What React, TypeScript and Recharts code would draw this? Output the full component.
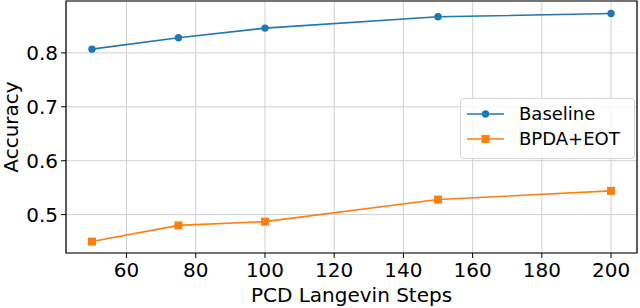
import {
  LineChart,
  Line,
  XAxis,
  YAxis,
  CartesianGrid,
  Legend,
  ReferenceArea
} from "recharts";

const steps = [50, 75, 100, 150, 200];
const baseline = [0.807, 0.828, 0.846, 0.867, 0.873];
const bpdaEot = [0.45, 0.48, 0.487, 0.528, 0.544];

const xTicks = [60, 80, 100, 120, 140, 160, 180, 200];
const yTicks = [0.5, 0.6, 0.7, 0.8];
const xDomain = [42.5, 207.5];
const yDomain = [0.4288, 0.8963];
const seriesOrder = ["baseline", "bpda"];

const BLUE = "#1f77b4";
const ORANGE = "#ff7f0e";
const FONT = "DejaVu Sans";

const data = steps.map((s, i) => ({
  step: s,
  baseline: baseline[i],
  bpda: bpdaEot[i]
}));

const SquareDot = (props: any) => {
  const { cx, cy, index } = props;
  if (cx == null || cy == null) return null;
  return <rect key={`sq-${index}`} x={cx - 4} y={cy - 4} width={8} height={8} fill={ORANGE} />;
};

const LegendBox = ({ payload }: any) => {
  // keep plotting order, not alphabetical
  const items = [...(payload || [])].sort(
    (a: any, b: any) => seriesOrder.indexOf(a.dataKey) - seriesOrder.indexOf(b.dataKey)
  );
  return (
    <div
      style={{
        width: 167,
        height: 56,
        border: "1px solid #d6d6d6",
        borderRadius: 4,
        background: "rgba(255,255,255,0.8)",
        padding: "3px 0 0 6px",
        boxSizing: "content-box",
        fontFamily: FONT,
        fontSize: 18,
        color: "#000"
      }}
    >
      {items.map((entry: any) => (
        <div key={entry.value} style={{ display: "flex", alignItems: "center", height: 24.5 }}>
          <svg width={38} height={12} style={{ marginRight: 14 }}>
            <line x1={0} y1={6} x2={37} y2={6} stroke={entry.color} strokeWidth={1.6} />
            {entry.dataKey === "bpda" ? (
              <rect x={14.5} y={2} width={8} height={8} fill={entry.color} />
            ) : (
              <circle cx={18.5} cy={6} r={3.7} fill={entry.color} />
            )}
          </svg>
          <span style={{ lineHeight: "24px" }}>{entry.value}</span>
        </div>
      ))}
    </div>
  );
};

const App = () => {
  return (
    <div style={{ position: "absolute", left: 0, top: 0, background: "#fff" }}>
      <LineChart
        width={640}
        height={308}
        data={data}
        margin={{ top: 1, right: 3, bottom: 0, left: 0 }}
      >
        <CartesianGrid stroke="#d0d0d0" strokeWidth={1} />
        <XAxis
          dataKey="step"
          type="number"
          domain={xDomain}
          ticks={xTicks}
          height={55}
          axisLine={false}
          tickLine={{ stroke: "#000", strokeWidth: 1 }}
          tickSize={5}
          tickMargin={5}
          tick={{ fill: "#000", fontSize: 20, fontFamily: FONT }}
          label={{
            value: "PCD Langevin Steps",
            position: "insideBottom",
            offset: 6,
            fill: "#000",
            fontSize: 20,
            fontFamily: FONT
          }}
        />
        <YAxis
          type="number"
          domain={yDomain}
          ticks={yTicks}
          width={66}
          axisLine={false}
          tickLine={{ stroke: "#000", strokeWidth: 1 }}
          tickSize={5}
          tickMargin={3}
          tickFormatter={(v) => v.toFixed(1)}
          tick={{ fill: "#000", fontSize: 20, fontFamily: FONT }}
          label={{
            content: (props: any) => {
              const vb = props.viewBox || { y: 0, height: 252 };
              const cy = vb.y + vb.height / 2;
              return (
                <text
                  x={11}
                  y={cy}
                  transform={`rotate(-90, 11, ${cy})`}
                  textAnchor="middle"
                  dominantBaseline="central"
                  fill="#000"
                  fontSize={20}
                  fontFamily={FONT}
                >
                  Accuracy
                </text>
              );
            }
          }}
        />
        <ReferenceArea
          x1={xDomain[0]}
          x2={xDomain[1]}
          y1={yDomain[0]}
          y2={yDomain[1]}
          fill="none"
          stroke="#000"
          strokeWidth={1.2}
          ifOverflow="visible"
        />
        <Legend
          layout="vertical"
          align="center"
          verticalAlign="middle"
          content={<LegendBox />}
          wrapperStyle={{ position: "absolute", left: 460, top: 98, width: 169, height: 58 }}
        />
        <Line
          dataKey="baseline"
          name="Baseline"
          stroke={BLUE}
          strokeWidth={1.6}
          dot={{ r: 3.7, fill: BLUE, stroke: BLUE, strokeWidth: 0 }}
          activeDot={false}
          isAnimationActive={false}
        />
        <Line
          dataKey="bpda"
          name="BPDA+EOT"
          stroke={ORANGE}
          strokeWidth={1.6}
          dot={<SquareDot />}
          activeDot={false}
          isAnimationActive={false}
        />
      </LineChart>
    </div>
  );
};

export default App;
